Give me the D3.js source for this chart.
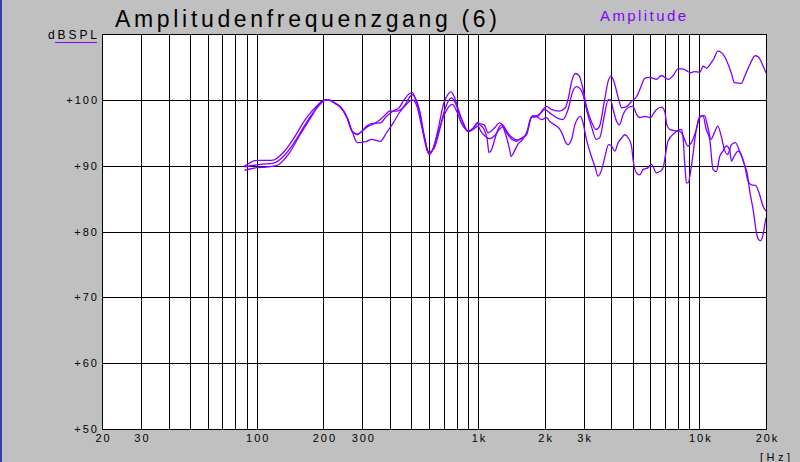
<!DOCTYPE html>
<html>
<head>
<meta charset="utf-8">
<script src="https://cdn.jsdelivr.net/npm/d3@7"></script>
<style>
html,body{margin:0;padding:0;background:#c0c0c0;}
svg{display:block;}
</style>
</head>
<body>
<svg id="chart" width="800" height="462"></svg>
<script>
// ---------- data ----------
const title = "Amplitudenfrequenzgang (6)";
const legendLabel = "Amplitude";
const yUnit = "dBSPL";
const xUnit = "[Hz]";

const gridFreqs = [30,40,50,60,70,80,90,100,200,300,400,500,600,700,800,900,
                   1000,2000,3000,4000,5000,6000,7000,8000,9000,10000,20000];
const labelFreqs = [20,30,100,200,300,1000,2000,3000,10000,20000];
const labelTexts = ["20","30","100","200","300","1k","2k","3k","10k","20k"];
const dbTicks = [50,60,70,80,90,100];

const freqA = [88,100,117,132,146,168,190,200,212,225,238,256,270,285,300,313,330,362,386,414,440,463,493,505,520,545,570,600,630,660,700,730,755,780,810,850,900,950,1000,1065,1110,1150,1200,1250,1300,1360,1420,1490,1570,1650,1710,1770,1860,1950,2040,2130,2330,2480,2560,2650,2750,2860,2960,3090,3250,3420,3540,3730,3870,3990,4110,4300,4460,4700,4950,5210,5390,5680,5980,6400,6740,7240,7620,8000,8440,8870,9160,9490,10050,10400,10790,11180,11560,12120,12560,13220,13930,14410,15480,16030,16930,17860,18490,19420,20000];
const dbA = [89.9,90.8,90.8,92.0,94.0,97.3,99.3,99.9,100.0,99.5,99.0,97.3,95.2,94.8,95.3,96.0,96.4,96.5,97.5,98.3,98.8,100.0,101.0,101.1,100.2,98.0,94.5,91.7,92.8,95.5,99.5,100.8,101.2,100.5,98.8,96.8,95.2,95.7,96.4,96.2,95.0,95.3,95.9,96.5,96.1,95.0,94.3,93.9,94.1,94.7,96.7,97.6,97.5,98.4,99.0,98.6,98.3,98.8,100.3,102.8,104.0,103.7,102.1,99.0,96.7,95.5,96.0,100.0,102.8,103.6,102.8,100.3,98.8,99.0,99.8,100.5,101.6,103.3,103.4,103.1,103.7,103.1,103.7,104.7,104.7,104.3,104.1,104.3,104.2,105.1,104.8,105.4,106.1,107.4,107.2,106.1,104.1,102.6,102.5,103.6,105.4,106.7,106.5,105.1,104.1];

const freqB = [88,104,119,132,149,171,193,205,215,225,238,256,270,285,298,320,345,370,400,431,463,493,505,520,545,570,600,630,660,700,740,760,790,830,870,900,950,1000,1020,1055,1100,1120,1150,1190,1230,1280,1320,1390,1410,1460,1510,1590,1680,1740,1830,1920,2000,2150,2260,2420,2550,2680,2790,2890,2980,3090,3250,3420,3540,3740,3870,3970,4080,4230,4350,4530,4760,5010,5200,5380,5670,5980,6390,6740,6980,7130,7350,7820,8190,8430,8880,9200,9690,10030,10540,10930,11290,11680,12120,12570,12990,13400,13970,14550,15200,16030,16600,17200,17950,18600,19420,20000];
const dbB = [89.8,90.2,90.4,91.4,93.7,97.0,99.3,100.0,99.9,99.5,99.0,97.3,95.2,94.7,95.2,96.0,96.5,97.3,98.3,98.3,99.0,100.5,100.8,100.3,98.3,94.8,92.0,92.5,94.5,98.0,100.0,100.3,99.5,97.5,96.0,95.2,95.7,96.6,96.2,95.7,94.0,92.0,92.4,94.0,95.5,96.2,95.2,92.4,91.4,92.2,93.2,94.0,95.5,97.3,97.5,98.0,98.5,97.8,97.3,97.0,98.5,101.3,102.0,101.7,100.8,98.5,96.0,94.0,94.2,98.0,100.0,100.0,98.5,96.7,96.2,97.8,98.8,99.0,97.8,97.3,97.5,97.3,98.5,98.9,98.2,96.2,95.5,95.3,95.2,94.6,93.0,93.5,95.5,97.3,97.6,95.8,94.0,95.0,96.0,94.4,92.4,91.7,93.2,93.5,92.2,90.0,87.6,87.1,87.0,85.9,83.8,83.1];

const freqC = [88,100,110,123,139,157,177,197,207,218,228,240,256,270,285,314,330,362,386,414,440,474,505,530,560,590,605,630,660,700,740,765,800,840,880,910,950,1000,1030,1074,1131,1191,1255,1299,1346,1418,1493,1573,1657,1745,1838,1936,2040,2110,2222,2344,2424,2490,2556,2646,2740,2836,2906,2982,3088,3253,3370,3491,3618,3747,3882,4008,4148,4296,4452,4610,4775,4935,5016,5196,5375,5560,5866,6076,6399,6622,6862,6980,7212,7746,8295,8437,8600,8744,8890,9200,9690,10030,10380,10740,11140,11530,11940,12350,12780,13230,13710,13960,14440,14950,15480,16030,16400,16930,17500,18120,18490,18850,19420,19730,20000];
const dbC = [89.3,89.7,89.8,90.0,91.7,94.7,97.5,99.8,100.0,99.8,99.4,98.8,97.3,95.2,93.5,93.7,94.0,93.7,95.0,96.5,98.0,99.3,100.0,99.0,95.5,92.3,91.8,92.8,95.0,97.5,99.0,99.3,98.3,96.5,95.5,95.2,95.5,96.0,95.2,94.5,94.1,94.6,95.6,95.9,95.0,94.0,93.7,94.2,94.7,97.4,97.4,97.0,97.3,96.7,96.2,95.5,94.5,93.5,93.2,94.0,96.2,97.3,97.5,96.5,94.0,91.4,89.9,88.4,89.4,91.4,93.2,93.0,92.2,93.5,94.2,94.7,94.2,93.0,90.9,88.9,88.6,89.4,89.7,90.2,88.9,89.1,89.7,91.0,93.7,95.0,95.5,94.3,90.0,87.4,87.4,89.9,95.5,97.5,97.6,95.5,94.0,89.4,89.1,91.4,92.2,93.0,92.4,90.7,91.6,92.2,91.6,90.0,89.0,85.9,83.3,79.8,78.8,78.6,79.6,81.0,82.1];

// ---------- layout ----------
const svg = d3.select("#chart");
const L = 102, R = 766, T = 34, B = 429;
const x = d3.scaleLog().domain([20,20000]).range([L,R]);
const y = d3.scaleLinear().domain([50,110]).range([B,T]);
const violet = "#8000ff";
const font = "'Liberation Sans', Arial, sans-serif";

svg.append("rect").attr("width",800).attr("height",462).attr("fill","#c0c0c0");
svg.append("rect").attr("x",0).attr("y",0).attr("width",2).attr("height",462).attr("fill","#3c3ca8");

svg.append("rect").attr("x",L).attr("y",T).attr("width",R-L).attr("height",B-T).attr("fill","#fff");

// vertical grid
const gx = svg.append("g").attr("transform",`translate(0,${B})`)
  .call(d3.axisBottom(x).tickValues(gridFreqs).tickSize(-(B-T)).tickFormat(""));
gx.select(".domain").remove();
gx.selectAll("line").attr("stroke","#000").attr("stroke-width",1).attr("shape-rendering","crispEdges");

// horizontal grid
const gy = svg.append("g").attr("transform",`translate(${L},0)`)
  .call(d3.axisLeft(y).tickValues(dbTicks.concat([110])).tickSize(-(R-L)).tickFormat(""));
gy.select(".domain").remove();
gy.selectAll("line").attr("stroke","#000").attr("stroke-width",1).attr("shape-rendering","crispEdges");

// border
svg.append("rect").attr("x",L).attr("y",T).attr("width",R-L).attr("height",B-T)
  .attr("fill","none").attr("stroke","#000").attr("stroke-width",1).attr("shape-rendering","crispEdges");

// x labels
const lx = svg.append("g").attr("transform",`translate(0,${B})`)
  .call(d3.axisBottom(x).tickValues(labelFreqs).tickSize(0).tickPadding(5)
        .tickFormat((d,i)=>labelTexts[i]));
lx.select(".domain").remove();
lx.selectAll("text").attr("font-family",font).attr("font-size",11).attr("fill","#000")
  .attr("letter-spacing","2px").attr("dx","1px");

// y labels
const ly = svg.append("g").attr("transform",`translate(${L},0)`)
  .call(d3.axisLeft(y).tickValues(dbTicks).tickSize(0).tickPadding(5).tickFormat(d=>"+"+d));
ly.select(".domain").remove();
ly.selectAll("text").attr("font-family",font).attr("font-size",11).attr("fill","#000")
  .attr("letter-spacing","2px").attr("dx","2px");

// curves
const clip = svg.append("clipPath").attr("id","plotclip");
clip.append("rect").attr("x",L).attr("y",T).attr("width",R-L).attr("height",B-T);
const line = d3.line().x(d=>x(d[0])).y(d=>y(d[1])).curve(d3.curveMonotoneX);
const series = [d3.zip(freqA,dbA), d3.zip(freqB,dbB), d3.zip(freqC,dbC)];
svg.append("g").attr("clip-path","url(#plotclip)")
  .selectAll("path").data(series).join("path")
  .attr("d",line).attr("fill","none").attr("stroke",violet).attr("stroke-width",1.3);

// texts
svg.append("text").attr("x",115).attr("y",27).text(title)
  .attr("font-family",font).attr("font-size",23).attr("fill","#000")
  .attr("textLength",382).attr("lengthAdjust","spacing");
svg.append("text").attr("x",600).attr("y",21).text(legendLabel)
  .attr("font-family",font).attr("font-size",15).attr("fill",violet)
  .attr("textLength",86).attr("lengthAdjust","spacing");
svg.append("text").attr("x",48).attr("y",39).text(yUnit)
  .attr("font-family",font).attr("font-size",12).attr("fill","#000")
  .attr("textLength",49).attr("lengthAdjust","spacing");
svg.append("line").attr("x1",55).attr("x2",97).attr("y1",42).attr("y2",42)
  .attr("stroke",violet).attr("stroke-width",1).attr("shape-rendering","crispEdges");
svg.append("text").attr("x",760).attr("y",461).text(xUnit)
  .attr("font-family",font).attr("font-size",11).attr("fill","#000")
  .attr("textLength",30).attr("lengthAdjust","spacing");
</script>
</body>
</html>
